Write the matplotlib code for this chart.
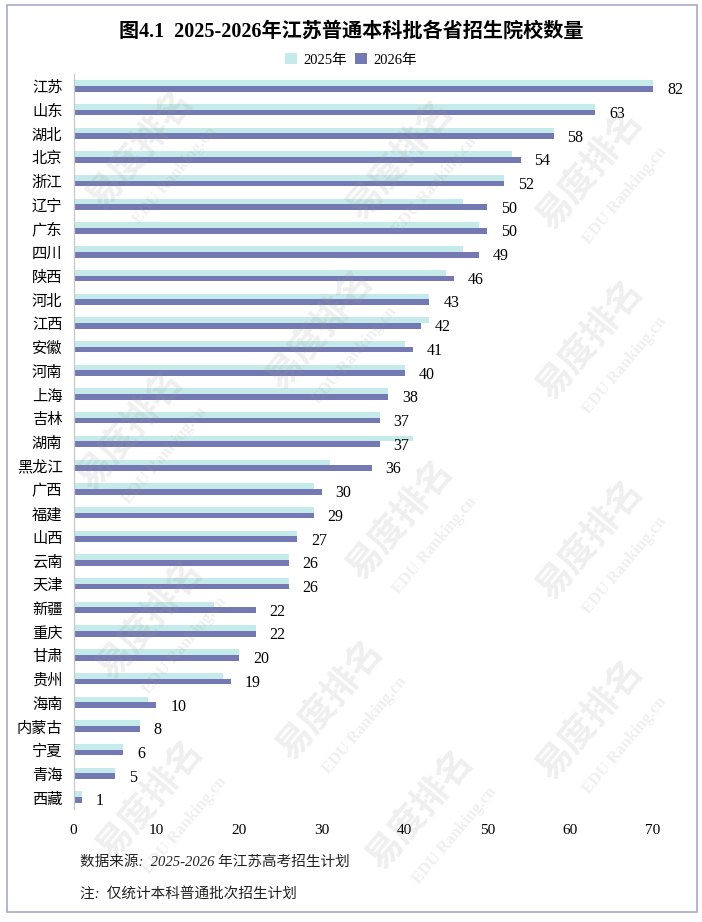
import matplotlib
matplotlib.use("Agg")
import matplotlib.pyplot as plt
from matplotlib.patches import Rectangle

plt.rcParams['font.family'] = ['Liberation Serif', 'Noto Sans CJK SC', 'DejaVu Sans']

provinces = ['江苏', '山东', '湖北', '北京', '浙江', '辽宁', '广东', '四川', '陕西', '河北',
             '江西', '安徽', '河南', '上海', '吉林', '湖南', '黑龙江', '广西', '福建', '山西',
             '云南', '天津', '新疆', '重庆', '甘肃', '贵州', '海南', '内蒙古', '宁夏', '青海', '西藏']
v2026 = [82, 63, 58, 54, 52, 50, 50, 49, 46, 43, 42, 41, 40, 38, 37, 37, 36, 30, 29, 27,
         26, 26, 22, 22, 20, 19, 10, 8, 6, 5, 1]
v2025 = [80, 63, 58, 53, 52, 47, 49, 47, 45, 43, 43, 40, 40, 38, 37, 41, 31, 29, 29, 27,
         26, 26, 17, 22, 20, 18, 9, 8, 6, 5, 1]
xticks = [0, 10, 20, 30, 40, 50, 60, 70]
series_names = ['2025年', '2026年']
title = '图4.1  2025-2026年江苏普通本科批各省招生院校数量'
note1 = '数据来源:  2025-2026 年江苏高考招生计划'
note2 = '注:  仅统计本科普通批次招生计划'

c25 = '#C4EBE9'
c26 = '#7479B3'

W, H = 702, 922
fig = plt.figure(figsize=(W / 100, H / 100), dpi=100)
fig.patch.set_facecolor('white')

# border
fig.add_artist(Rectangle((7 / W, 1 - 912 / H), (697 - 7) / W, (912 - 5) / H,
                         transform=fig.transFigure, fill=False,
                         edgecolor='#A9A9CC', linewidth=1.2))

left, right = 73.5 / W, 653 / W
top, bottom = 1 - 74 / H, 1 - 809 / H
ax = fig.add_axes([left, bottom, right - left, top - bottom])

n = len(provinces)
ys = list(range(n))
h = 0.24
ax.barh([y - h / 2 for y in ys], v2025, height=h, color=c25, label=series_names[0], zorder=2)
ax.barh([y + h / 2 for y in ys], v2026, height=h, color=c26, label=series_names[1], zorder=2)

xmax = 70
ax.set_xlim(0, xmax)
ax.set_ylim(n - 0.5, -0.5)
ax.set_xticks(xticks)
ax.set_xticklabels([str(t) for t in xticks], fontsize=11, family=['Liberation Serif'])
ax.set_yticks(ys)
ax.set_yticklabels(provinces, fontsize=11, family=['Noto Sans CJK SC'])
ax.tick_params(axis='both', length=0)
ax.tick_params(axis='x', pad=11)
ax.tick_params(axis='y', pad=8)
for s in ['top', 'right', 'bottom']:
    ax.spines[s].set_visible(False)
ax.spines['left'].set_color('#C8C8C8')
ax.spines['left'].set_linewidth(0.9)

for y, v in zip(ys, v2026):
    ax.annotate(str(v), xy=(min(v, xmax), y + h / 2), xytext=(10, -1),
                textcoords='offset points', ha='left', va='center',
                fontsize=11.5, family=['Liberation Serif'], annotation_clip=False)

fig.text(0.5, 1 - 32 / H, title, ha='center', va='center', fontsize=14.5,
         fontweight='bold', family=['Liberation Serif', 'Noto Sans CJK SC'])

leg = fig.legend(loc='center', bbox_to_anchor=(0.5, 1 - 60 / H), ncol=2, frameon=False,
                 handlelength=0.8, handleheight=0.8, handletextpad=0.4,
                 columnspacing=0.6, prop={'family': ['Liberation Serif', 'Noto Sans CJK SC'], 'size': 10.5})

fig.text(80 / W, 1 - 862 / H, note1, ha='left', va='center', fontsize=10.5,
         style='italic', family=['Liberation Serif', 'Noto Sans CJK SC'], color='#222222')
fig.text(80 / W, 1 - 895 / H, note2, ha='left', va='center', fontsize=10.5,
         style='italic', family=['Liberation Serif', 'Noto Sans CJK SC'], color='#222222')

# watermark
wm_pos = [(140, 150), (400, 160), (590, 170), (590, 340), (320, 330), (130, 430),
          (400, 520), (590, 540), (150, 620), (330, 700), (590, 720), (150, 800),
          (420, 810)]
for (px, py) in wm_pos:
    fig.text(px / W, 1 - py / H, '易度排名', ha='center', va='center', rotation=50,
             fontsize=26, fontweight='bold', family=['Noto Sans CJK SC'],
             color='#9A9A9A', alpha=0.16, zorder=0)
    fig.text((px + 35) / W, 1 - (py + 25) / H, 'EDU Ranking.cn', ha='center', va='center',
             rotation=50, fontsize=12, fontweight='bold', family=['Liberation Serif'],
             color='#9A9A9A', alpha=0.16, zorder=0)

fig.savefig('out.png', dpi=100, facecolor='white')
